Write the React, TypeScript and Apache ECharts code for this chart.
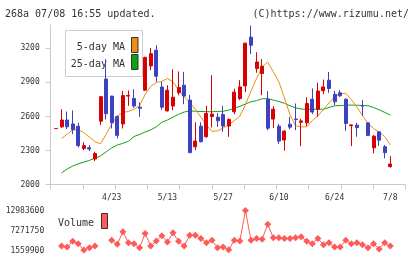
import React, { useEffect, useRef } from "react";
import * as echarts from "echarts";

const dates = [
  "4/9", "4/10", "4/11", "4/12", "4/15", "4/16", "4/17", "4/18", "4/19", "4/22",
  "4/23", "4/24", "4/25", "4/26", "4/30", "5/1", "5/2", "5/7", "5/8", "5/9",
  "5/13", "5/14", "5/15", "5/16", "5/17", "5/20", "5/21", "5/22", "5/23", "5/24",
  "5/27", "5/28", "5/29", "5/30", "5/31", "6/3", "6/4", "6/5", "6/6", "6/7",
  "6/10", "6/11", "6/12", "6/13", "6/14", "6/17", "6/18", "6/19", "6/20", "6/21",
  "6/24", "6/25", "6/26", "6/27", "6/28", "7/1", "7/2", "7/3", "7/4", "7/5",
  "7/8",
];
const tickLabels = ["4/23", "5/13", "5/27", "6/10", "6/24", "7/8"];

const opens = [2490,2505,2565,2530,2510,2315,2322,2222,2555,2925,2775,2595,2530,2775,2755,2678,2827,3040,3178,2855,2645,2688,2805,2871,2740,2330,2511,2418,2595,2590,2613,2512,2637,2754,2865,3293,3017,2974,2748,2573,2511,2389,2528,2574,2545,2540,2748,2660,2822,2915,2791,2804,2748,2515,2520,2692,2540,2321,2461,2330,2155];
const closes = [2490,2565,2505,2480,2340,2340,2310,2270,2770,2620,2540,2430,2780,2781,2688,2668,3115,3148,2950,2678,2827,2765,2851,2775,2278,2380,2374,2622,2617,2558,2512,2570,2810,2856,3240,3222,3075,3038,2493,2660,2380,2467,2502,2568,2557,2710,2635,2820,2856,2842,2725,2778,2535,2522,2498,2686,2428,2423,2388,2278,2178];
const lows = [2490,2495,2485,2440,2325,2300,2292,2205,2520,2570,2490,2403,2490,2690,2672,2593,2822,3003,2900,2655,2640,2652,2783,2704,2277,2300,2368,2410,2500,2505,2462,2418,2615,2740,2810,3145,2980,2783,2476,2495,2355,2295,2482,2476,2336,2511,2617,2593,2792,2804,2696,2768,2470,2336,2418,2602,2425,2272,2338,2228,2146];
const highs = [2490,2660,2640,2650,2540,2370,2345,2286,2776,3100,2778,2605,2820,2825,2835,2720,3122,3198,3222,2900,2870,3010,2992,2988,2785,2545,2545,2690,2958,2628,2690,2580,2840,2915,3245,3395,3160,3100,2818,2686,2530,2478,2593,2710,2575,2765,2842,2892,2920,2988,2821,2827,2754,2525,2540,2740,2543,2432,2465,2345,2248];

const ma5 = [null,2403,2440,2478,2480,2455,2415,2375,2355,2440,2530,2600,2632,2640,2660,2690,2790,2860,2895,2905,2930,2900,2830,2770,2720,2660,2590,2520,2465,2470,2495,2525,2560,2600,2700,2820,2930,3030,3075,2990,2900,2760,2610,2515,2505,2505,2560,2600,2660,2715,2770,2795,2800,2745,2680,2605,2535,2490,2460,2420,2345];
const ma25 = [null,2100,2135,2160,2180,2195,2210,2230,2250,2285,2320,2345,2360,2378,2420,2438,2460,2478,2505,2545,2565,2590,2615,2635,2645,2642,2640,2638,2638,2640,2642,2652,2670,2685,2705,2725,2735,2752,2752,2740,2728,2712,2690,2672,2662,2658,2660,2660,2660,2675,2690,2692,2695,2696,2695,2693,2690,2675,2655,2632,2608];

const volumes = [null,2700000,2400000,4080000,3390000,1559900,2200000,2700000,null,null,4380000,3190000,6850000,3690000,3390000,2200000,6360000,2700000,4180000,5660000,3880000,6550000,4080000,2700000,5860000,5860000,4870000,3690000,4380000,2200000,2400000,1600000,4380000,4180000,12983600,4380000,4870000,4680000,9030000,5070000,5070000,4870000,4870000,5070000,5370000,4080000,3390000,4870000,3090000,3690000,2400000,2400000,4380000,3390000,3690000,3090000,2200000,3390000,1860000,3690000,2700000];

const priceTicks = [2000, 2300, 2600, 2900, 3200];
const volumeTicks = [1559900, 7271750, 12983600];

const FONT = "'DejaVu Sans Mono', monospace";
const RED = "#d80000";
const BLUE = "#3f42c0";
const ORANGE = "#f08c10";
const GREEN = "#14a014";
const VOL = "#ff5a5a";
const AXIS = "#c8c8c8";
const TEXT = "#333333";

export default function App() {
  const ref = useRef<HTMLDivElement>(null);
  useEffect(() => {
    document.body.style.margin = "0";
    if (!ref.current) return;
    const chart = echarts.init(ref.current, null, { renderer: "svg" });
    const candles = opens.map((o, i) => [o, closes[i], lows[i], highs[i]]);
    const labelStyle = { fontSize: 8, fontFamily: FONT, color: TEXT };
    const plain = (v: number) => String(v);
    chart.setOption({
      animation: false,
      grid: [
        { left: 50.7, right: 14.7, top: 25, bottom: 74.7 },
        { left: 53.2, right: 26.9, top: 25, bottom: 74.7 },
        { left: 53.2, right: 26.9, top: 210.5, bottom: 9 },
      ],
      xAxis: [
        {
          type: "value", gridIndex: 0, min: 0, max: 11, interval: 1,
          axisLine: { show: true, lineStyle: { color: AXIS } },
          axisTick: { show: true, length: 5, lineStyle: { color: AXIS } },
          axisLabel: { show: false }, splitLine: { show: false },
        },
        {
          type: "category", gridIndex: 1, data: dates, boundaryGap: true,
          axisLine: { show: false }, axisTick: { show: false }, splitLine: { show: false },
          axisLabel: {
            ...labelStyle, margin: 9,
            interval: (_i: number, v: string) => tickLabels.includes(v),
          },
        },
        { type: "category", gridIndex: 2, data: dates, boundaryGap: true, show: false },
      ],
      yAxis: [
        {
          type: "value", gridIndex: 0, min: 2000, max: 3400,
          axisLine: { show: true, lineStyle: { color: AXIS } },
          axisTick: { show: true, length: 5, customValues: priceTicks, lineStyle: { color: AXIS } },
          axisLabel: { ...labelStyle, margin: 11, customValues: priceTicks, formatter: plain },
          splitLine: { show: false },
        },
        { type: "value", gridIndex: 1, min: 2000, max: 3400, show: false },
        {
          type: "value", gridIndex: 2, min: 1559900, max: 12983600,
          axisLine: { show: false }, axisTick: { show: false }, splitLine: { show: false },
          axisLabel: { ...labelStyle, margin: 9, customValues: volumeTicks, formatter: plain, padding: [0, 0, 3, 0] },
        },
      ],
      series: [
        {
          type: "candlestick", xAxisIndex: 1, yAxisIndex: 1, data: candles, barWidth: 3.4, z: 3,
          itemStyle: { color: RED, color0: BLUE, borderColor: RED, borderColor0: BLUE, borderWidth: 1 },
        },
        {
          type: "line", xAxisIndex: 1, yAxisIndex: 1, data: ma25, symbol: "none", z: 2,
          lineStyle: { color: GREEN, width: 1 },
        },
        {
          type: "line", xAxisIndex: 1, yAxisIndex: 1, data: ma5, symbol: "none", z: 2,
          lineStyle: { color: ORANGE, width: 1 },
        },
        {
          type: "line", xAxisIndex: 2, yAxisIndex: 2, data: volumes, symbol: "none",
          connectNulls: false, lineStyle: { color: VOL, width: 1 },
        },
        {
          type: "scatter", xAxisIndex: 2, yAxisIndex: 2, data: volumes, symbol: "diamond", symbolSize: 7,
          itemStyle: { color: VOL, opacity: 1 },
        },
      ],
      graphic: [
        { type: "text", x: 5, y: 13, style: { text: "268a 07/08 16:55 updated.", fontSize: 10, fontFamily: FONT, fill: TEXT, verticalAlign: "middle" } },
        { type: "text", x: 409, y: 13, style: { text: "(C)https://www.rizumu.net/", fontSize: 10, fontFamily: FONT, fill: TEXT, align: "right", verticalAlign: "middle" } },
        { type: "rect", z: -10, shape: { x: 65.5, y: 30.5, width: 77, height: 46 }, style: { fill: "#ffffff", stroke: "#cccccc", lineWidth: 1 } },
        { type: "text", z: -5, x: 125, y: 46, style: { text: "5-day MA", fontSize: 10, fontFamily: FONT, fill: TEXT, align: "right", verticalAlign: "middle" } },
        { type: "text", z: -5, x: 125, y: 63, style: { text: "25-day MA", fontSize: 10, fontFamily: FONT, fill: TEXT, align: "right", verticalAlign: "middle" } },
        { type: "rect", z: -5, shape: { x: 131.5, y: 37.5, width: 6.5, height: 15 }, style: { fill: ORANGE, stroke: "#333", lineWidth: 1 } },
        { type: "rect", z: -5, shape: { x: 131.5, y: 54.5, width: 6.5, height: 15 }, style: { fill: GREEN, stroke: "#333", lineWidth: 1 } },
        { type: "text", x: 58, y: 222, style: { text: "Volume", fontSize: 10, fontFamily: FONT, fill: TEXT, verticalAlign: "middle" } },
        { type: "rect", shape: { x: 101.5, y: 213.5, width: 6, height: 15 }, style: { fill: VOL, stroke: "#333", lineWidth: 1 } },
      ],
    });
    return () => chart.dispose();
  }, []);
  return <div ref={ref} style={{ width: 420, height: 259, position: "fixed", left: 0, top: 0 }} />;
}
